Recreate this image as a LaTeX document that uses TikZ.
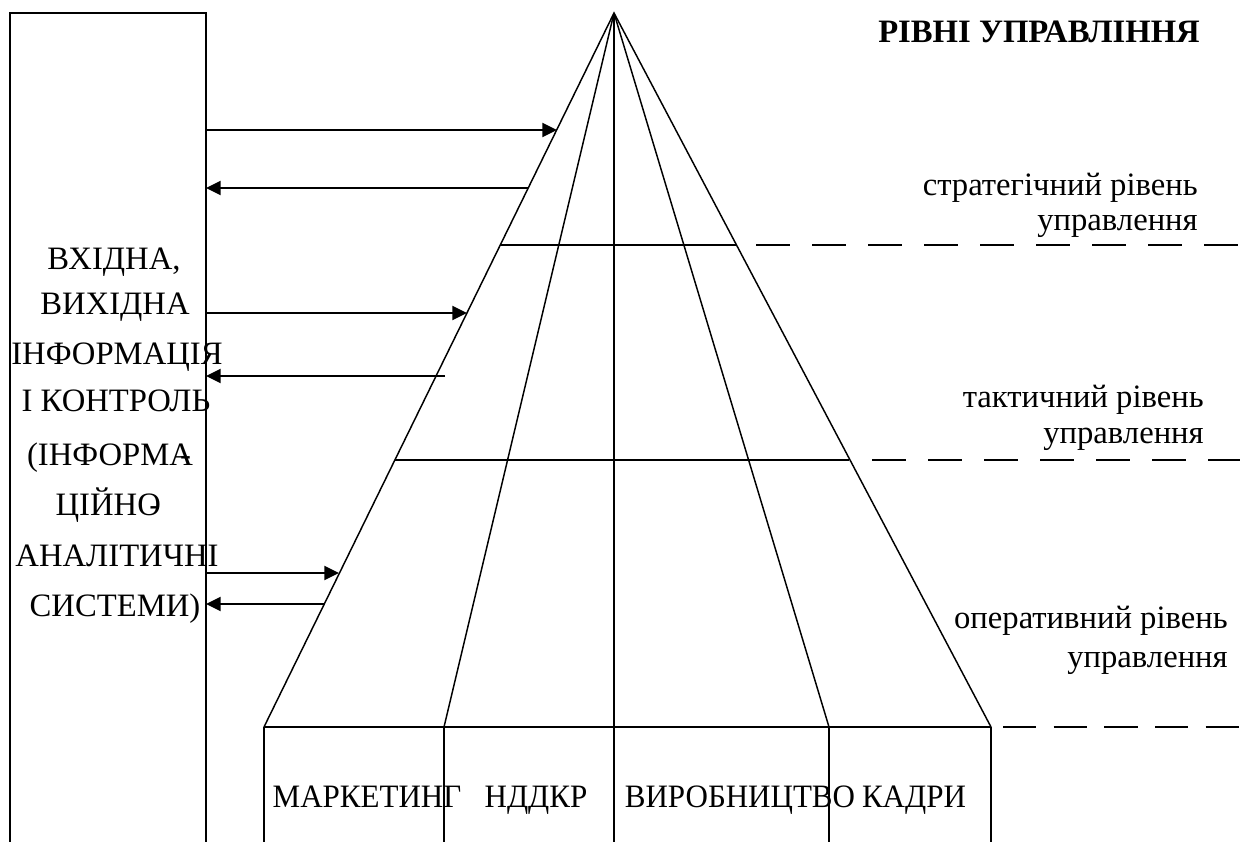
\documentclass[tikz,border=0pt]{standalone}
\usepackage{fontspec}
\setmainfont{Liberation Serif}
\usetikzlibrary{arrows.meta}
\begin{document}
\begin{tikzpicture}[x=0.75pt,y=-0.75pt,
  frame/.style={line width=1.5pt},
  pyr/.style={line width=1.1pt},
  flow/.style={line width=1.5pt,-{Triangle[length=11pt,width=10.5pt]}},
  lvl/.style={line width=1.1pt,dash pattern=on 25.5pt off 16.5pt},
  txt/.style={font=\fontsize{24.5}{29}\selectfont,inner sep=0pt},
  ttl/.style={font=\fontsize{24.5}{29}\selectfont\bfseries,inner sep=0pt}]
\useasboundingbox (0,0) rectangle (1256,842);
% left box
\coordinate (lbBL) at (10,842);
\coordinate (lbTL) at (10,13);
\coordinate (lbTR) at (206,13);
\coordinate (lbBR) at (206,842);
\draw[frame] (lbBL) -- (lbTL) -- (lbTR) -- (lbBR);
% pyramid
\coordinate (apex) at (614,13);
\coordinate (b1) at (264,727);
\coordinate (b2) at (444,727);
\coordinate (b3) at (614,727);
\coordinate (b4) at (829,727);
\coordinate (b5) at (991,727);
\coordinate (e1) at (264,842);
\coordinate (e2) at (444,842);
\coordinate (e3) at (614,842);
\coordinate (e4) at (829,842);
\coordinate (e5) at (991,842);
\draw[pyr] (b1) -- (apex) -- (b5);
\draw[pyr] (apex) -- (b2);
\draw[pyr] (apex) -- (b4);
\draw[pyr] (apex) -- (e3);
\draw[pyr] (b1) -- (b5);
\draw[pyr] (b1) -- (e1);
\draw[pyr] (b2) -- (e2);
\draw[pyr] (b4) -- (e4);
\draw[pyr] (b5) -- (e5);
% level lines
\coordinate (s1) at (500,245);
\coordinate (s2) at (737,245);
\coordinate (t1) at (395,460);
\coordinate (t2) at (849,460);
\draw[pyr] (s1) -- (s2);
\draw[pyr] (t1) -- (t2);
\coordinate (sd1) at (756,245);
\coordinate (sd2) at (1244,245);
\coordinate (td1) at (872,460);
\coordinate (td2) at (1240,460);
\coordinate (od1) at (1003,727);
\coordinate (od2) at (1240,727);
\draw[lvl] (sd1) -- (sd2);
\draw[lvl] (td1) -- (td2);
\draw[lvl,dash pattern=on 25pt off 13pt] (od1) -- (od2);
% arrows
\coordinate (a1s) at (206,130); \coordinate (a1e) at (557,130);
\coordinate (a2s) at (528,188); \coordinate (a2e) at (206,188);
\coordinate (a3s) at (206,313); \coordinate (a3e) at (467,313);
\coordinate (a4s) at (445,376); \coordinate (a4e) at (206,376);
\coordinate (a5s) at (206,573); \coordinate (a5e) at (339,573);
\coordinate (a6s) at (324,604); \coordinate (a6e) at (206,604);
\draw[flow] (a1s) -- (a1e);
\draw[flow] (a2s) -- (a2e);
\draw[flow] (a3s) -- (a3e);
\draw[flow] (a4s) -- (a4e);
\draw[flow] (a5s) -- (a5e);
\draw[flow] (a6s) -- (a6e);
% left box text
\node[txt,anchor=base] (l1) at (114,269) {ВХІДНА,};
\node[txt,anchor=base] (l2) at (115,314) {ВИХІДНА};
\node[txt,anchor=base] (l3) at (117,364) {ІНФОРМАЦІЯ};
\node[txt,anchor=base] (l4) at (116,411) {І КОНТРОЛЬ};
\node[txt,anchor=base] (l5) at (109,465) {(ІНФОРМА\kern-0.4em-};
\node[txt,anchor=base] (l6) at (108,515) {ЦІЙНО\kern-0.35em-};
\node[txt,anchor=base] (l7) at (117,566) {АНАЛІТИЧНІ};
\node[txt,anchor=base] (l8) at (115,616) {СИСТЕМИ)};
% title and levels
\node[ttl,anchor=base west] (title) at (878,43) {РІВНІ УПРАВЛІННЯ};
\node[txt,anchor=base east] (st1) at (1198,195) {стратегічний рівень};
\node[txt,anchor=base east] (st2) at (1198,230) {управлення};
\node[txt,anchor=base east] (ta1) at (1204,407) {тактичний рівень};
\node[txt,anchor=base east] (ta2) at (1204,443) {управлення};
\node[txt,anchor=base east] (op1) at (1228,628) {оперативний рівень};
\node[txt,anchor=base east] (op2) at (1228,667) {управлення};
% bottom labels
\node[txt,anchor=base] (m) at (367,807) {\scalebox{0.95}[1]{МАРКЕТИНГ}};
\node[txt,anchor=base] (n) at (536,807) {\scalebox{0.95}[1]{НДДКР}};
\node[txt,anchor=base] (v) at (740,807) {\scalebox{0.95}[1]{ВИРОБНИЦТВО}};
\node[txt,anchor=base] (k) at (914,807) {\scalebox{0.95}[1]{КАДРИ}};
\end{tikzpicture}
\end{document}
